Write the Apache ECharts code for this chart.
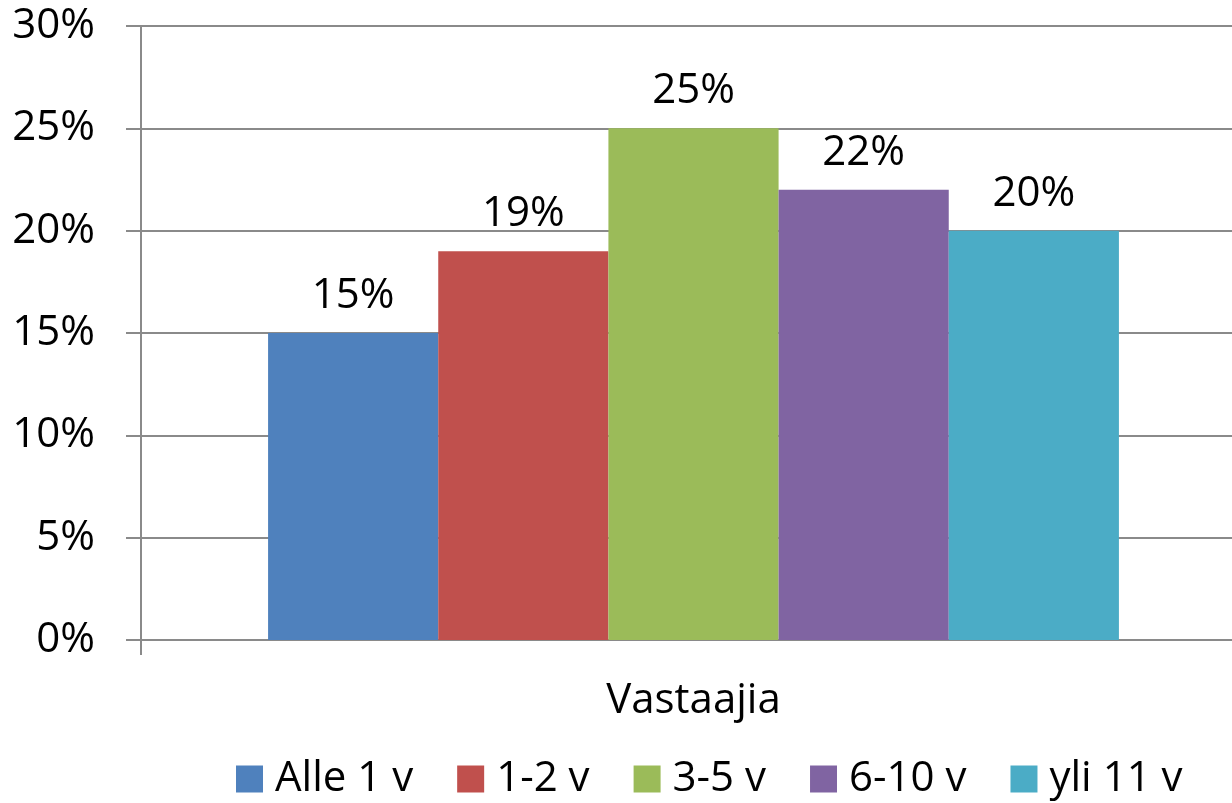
<!DOCTYPE html>
<html>
<head>
<meta charset="utf-8">
<script src="https://cdn.jsdelivr.net/npm/echarts@6/dist/echarts.min.js"></script>
<style>
html, body { margin: 0; padding: 0; background: #fff; }
#chart { width: 1232px; height: 803px; }
</style>
</head>
<body>
<div id="chart"></div>
<script>
var categories = ['Vastaajia'];
var seriesNames = ['Alle 1 v', '1-2 v', '3-5 v', '6-10 v', 'yli 11 v'];
var seriesValues = [15, 19, 25, 22, 20];
var colors = ['#4F81BD', '#C0504D', '#9BBB59', '#8064A2', '#4BACC6'];
var yTicks = [0, 5, 10, 15, 20, 25, 30];

var myChart = echarts.init(document.getElementById('chart'));
var font = 'Open Sans';
var gray = '#8a8a8a';

var series = [];
for (var i = 0; i < seriesNames.length; i++) {
    series.push({
        name: seriesNames[i],
        type: 'bar',
        barGap: '0%',
        barCategoryGap: '23%',
        itemStyle: { color: colors[i] },
        label: {
            show: true,
            position: 'top',
            distance: 16,
            formatter: '{c}%',
            color: '#000',
            fontFamily: font,
            fontSize: 42
        },
        data: [seriesValues[i]]
    });
}

var option = {
    animation: false,
    color: colors,
    grid: {
        left: 141,
        right: -14,
        top: 26,
        bottom: 163,
        containLabel: false,
        outerBoundsMode: 'none'
    },
    legend: {
        data: seriesNames,
        left: 231,
        top: 753,
        itemWidth: 27,
        itemHeight: 27,
        itemGap: 44,
        icon: 'rect',
        textStyle: {
            fontFamily: font,
            fontSize: 42,
            color: '#000',
            padding: [0, 0, 0, 7]
        }
    },
    xAxis: {
        type: 'category',
        data: categories,
        axisLine: { show: true, lineStyle: { color: gray, width: 2 } },
        axisTick: { show: true, length: 15, lineStyle: { color: gray, width: 2 } },
        axisLabel: {
            margin: 40,
            fontFamily: font,
            fontSize: 42,
            color: '#000'
        }
    },
    yAxis: {
        type: 'value',
        min: yTicks[0],
        max: yTicks[yTicks.length - 1],
        interval: 5,
        axisLine: { show: true, lineStyle: { color: gray, width: 2 } },
        axisTick: { show: true, length: 15, lineStyle: { color: gray, width: 2 } },
        splitLine: { show: true, lineStyle: { color: gray, width: 2 } },
        axisLabel: {
            margin: 46,
            formatter: '{value}%',
            fontFamily: font,
            fontSize: 42,
            color: '#000'
        }
    },
    series: series
};

myChart.setOption(option);
</script>
</body>
</html>
